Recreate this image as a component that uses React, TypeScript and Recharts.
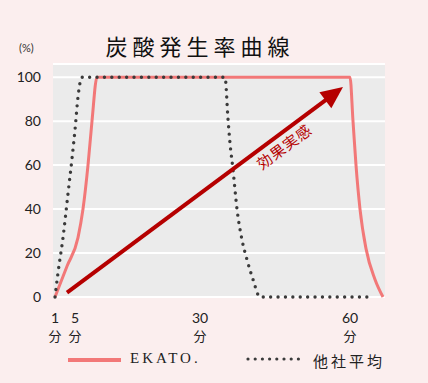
import React from 'react';
import { LineChart, Line, XAxis, YAxis, CartesianGrid, ReferenceLine } from 'recharts';

// minutes / percent
const ekatoMin = [1, 3.4, 5.6, 6.6, 7.6, 8.4, 9.4, 60, 60.6, 61.2, 62, 63.2, 65, 66.6];
const ekatoPct = [0, 14, 27, 40, 60, 80, 100, 100, 80, 60, 40, 22, 8, 0];
const otherMin = [1, 1.6, 2.6, 3.6, 4.4, 5, 5.6, 6.4, 35, 35.6, 36, 36.6, 37.4, 38.4, 39.4, 40.6, 42, 64.6];
const otherPct = [0, 11, 27, 47, 63, 76, 91, 100, 100, 81, 70, 58, 40, 26, 17, 8, 0, 0];

const xTicks = [1, 5, 30, 60];
const yTicks = [0, 20, 40, 60, 80, 100];
const arrowFrom = { x: 3.4, y: 2 };
const arrowTo = { x: 58.6, y: 95.5 };

const title = '炭酸発生率曲線';
const arrowLabel = '効果実感';
const ekatoName = 'EKATO.';
const otherName = '他社平均';

const ekatoData = ekatoMin.map((m, i) => ({ m, v: ekatoPct[i] }));
const otherData = otherMin.map((m, i) => ({ m, v: otherPct[i] }));

const PINK = '#f27878';
const DOTS = '#3a3a3a';
const RED = '#b50000';
const SERIF = '"Liberation Serif", "DejaVu Serif", "Noto Sans CJK JP", serif';
const SANS = 'Lato, "Noto Sans CJK JP", sans-serif';

const MinuteTick = (props: any) => {
  const { x, y, payload } = props;
  return (
    <text x={x} y={y} textAnchor="middle" fill="#222" fontFamily={SANS} fontSize={14}>
      <tspan x={x} dy={22}>{payload.value}</tspan>
      <tspan x={x} dy={18} fontSize={13}>分</tspan>
    </text>
  );
};

const Arrow = (props: any) => {
  const { x1, y1, x2, y2 } = props;
  if (x1 == null || x2 == null) return null;
  const dx = x2 - x1;
  const dy = y2 - y1;
  const len = Math.sqrt(dx * dx + dy * dy);
  const ux = dx / len;
  const uy = dy / len;
  const head = 22;
  const half = 10;
  const bx = x2 - ux * head;
  const by = y2 - uy * head;
  const angle = (Math.atan2(dy, dx) * 180) / Math.PI;
  const t = 0.76;
  const tx = x1 + dx * t - uy * 15;
  const ty = y1 + dy * t + ux * 15;
  return (
    <g>
      <line x1={x1} y1={y1} x2={bx + ux * 2} y2={by + uy * 2} stroke={RED} strokeWidth={4} />
      <polygon
        points={`${x2},${y2} ${bx - uy * half},${by + ux * half} ${bx + uy * half},${by - ux * half}`}
        fill={RED}
      />
      <text
        x={tx}
        y={ty}
        transform={`rotate(${angle} ${tx} ${ty})`}
        textAnchor="middle"
        dominantBaseline="middle"
        fill={RED}
        fontFamily={SERIF}
        fontSize={15}
        letterSpacing={1}
      >
        {arrowLabel}
      </text>
    </g>
  );
};

export default function App() {
  return (
    <div style={{ position: 'fixed', left: 0, top: 0, width: 428, height: 383, background: '#fbeeee', overflow: 'hidden' }}>
      <div style={{ position: 'absolute', left: 0, top: 29, width: 400, textAlign: 'center', fontFamily: SERIF, fontSize: 22, letterSpacing: 5, color: '#111' }}>
        {title}
      </div>
      <div style={{ position: 'absolute', left: 19, top: 41, fontFamily: SANS, fontSize: 11, color: '#333' }}>(%)</div>
      <LineChart width={428} height={383} margin={{ top: 64, right: 43, bottom: 56, left: 0 }}>
        <CartesianGrid vertical={false} fill="#ebebeb" stroke="#ffffff" strokeWidth={2} />
        <XAxis
          type="number"
          dataKey="m"
          domain={[0.6, 67]}
          ticks={xTicks}
          height={30}
          axisLine={false}
          tickLine={false}
          tickSize={0}
          tickMargin={4}
          tick={<MinuteTick />}
          allowDuplicatedCategory={false}
        />
        <YAxis
          type="number"
          domain={[0, 106]}
          ticks={yTicks}
          width={53}
          axisLine={false}
          tickLine={false}
          tickSize={0}
          tickMargin={12}
          tick={{ fill: '#222', fontSize: 14, fontFamily: SANS }}
        />
        <Line
          data={ekatoData}
          dataKey="v"
          type="monotone"
          stroke={PINK}
          strokeWidth={3}
          dot={false}
          isAnimationActive={false}
        />
        <Line
          data={otherData}
          dataKey="v"
          type="monotone"
          stroke={DOTS}
          strokeWidth={3.4}
          strokeDasharray="0 7.4"
          strokeLinecap="round"
          dot={false}
          isAnimationActive={false}
        />
        <ReferenceLine segment={[arrowFrom, arrowTo]} stroke={RED} shape={<Arrow />} ifOverflow="visible" />
      </LineChart>
      <svg style={{ position: 'absolute', left: 0, top: 350 }} width={428} height={20}>
        <line x1={68} y1={10} x2={121} y2={10} stroke={PINK} strokeWidth={4} />
        <line x1={248} y1={9} x2={304} y2={9} stroke={DOTS} strokeWidth={3.2} strokeDasharray="0 7.2" strokeLinecap="round" />
      </svg>
      <div style={{ position: 'absolute', left: 130, top: 350, fontFamily: SERIF, fontSize: 15, letterSpacing: 3, color: '#222' }}>
        {ekatoName}
      </div>
      <div style={{ position: 'absolute', left: 313, top: 350, fontFamily: SERIF, fontSize: 15, letterSpacing: 3, color: '#222' }}>
        {otherName}
      </div>
    </div>
  );
}
